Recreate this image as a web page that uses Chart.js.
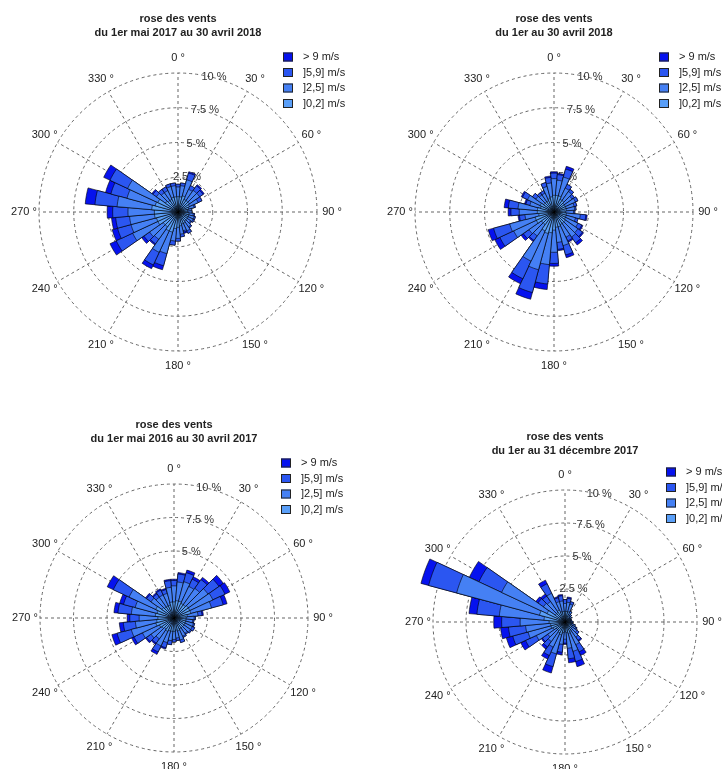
<!DOCTYPE html>
<html lang="fr">
<head>
<meta charset="utf-8">
<title>Roses des vents</title>
<script src="https://cdn.jsdelivr.net/npm/chart.js@4.4.1/dist/chart.umd.min.js"></script>
<style>
  html, body { margin: 0; padding: 0; background: #fff; }
  #wrap { position: relative; width: 722px; height: 769px; overflow: hidden; }
  #wrap canvas { position: absolute; left: 0; top: 0; }
</style>
</head>
<body>
<div id="wrap">
  <canvas id="rose1" width="722" height="769"></canvas>
  <canvas id="rose2" width="722" height="769"></canvas>
  <canvas id="rose3" width="722" height="769"></canvas>
  <canvas id="rose4" width="722" height="769"></canvas>
</div>
<script>
// directions (degrees), one bar every 10°
const directions = [0, 10, 20, 30, 40, 50, 60, 70, 80, 90, 100, 110, 120, 130, 140, 150, 160, 170,
                    180, 190, 200, 210, 220, 230, 240, 250, 260, 270, 280, 290, 300, 310, 320, 330, 340, 350];
const speedClasses = [']0,2] m/s', ']2,5] m/s', ']5,9] m/s', '> 9 m/s'];
const ringTicks = [2.5, 5, 7.5, 10];
const angleTicks = [0, 30, 60, 90, 120, 150, 180, 210, 240, 270, 300, 330];

// frequencies in % — du 1er mai 2017 au 30 avril 2018
const p1_0_2 = [1.1,1.1,1.2,1.0,1.0,1.0,0.9,0.8,0.7,0.7,0.8,0.8,0.8,0.8,0.8,0.9,0.9,1.0,1.1,1.2,1.5,1.5,1.3,1.3,1.6,1.6,1.7,1.7,1.9,1.7,1.6,1.1,1.0,1.0,1.1,1.1];
const p1_2_5 = [0.7,0.8,1.2,0.8,0.9,0.9,0.7,0.4,0.3,0.3,0.3,0.4,0.4,0.3,0.5,0.6,0.5,0.6,0.8,0.9,1.6,1.7,1.1,1.2,2.0,1.9,1.8,1.9,2.5,2.1,2.4,0.8,0.7,0.7,0.8,0.8];
const p1_5_9 = [0.2,0.2,0.5,0.3,0.4,0.3,0.3,0.1,0.0,0.0,0.1,0.1,0.1,0.1,0.1,0.2,0.1,0.2,0.2,0.3,0.9,1.0,0.4,0.5,1.3,1.0,1.0,1.1,1.6,1.2,1.4,0.3,0.3,0.3,0.2,0.2];
const p1_9   = [0.0,0.0,0.1,0.0,0.1,0.1,0.0,0.0,0.0,0.0,0.0,0.0,0.0,0.0,0.0,0.0,0.1,0.0,0.0,0.0,0.3,0.3,0.1,0.2,0.5,0.4,0.3,0.4,0.7,0.4,0.5,0.1,0.0,0.0,0.0,0.0];

// du 1er au 30 avril 2018
const p2_0_2 = [1.2,1.2,1.2,1.0,1.0,0.9,0.9,0.9,0.9,0.8,0.9,0.9,0.9,1.0,1.0,1.0,1.1,1.1,1.3,1.5,1.6,1.5,1.1,1.1,1.4,1.4,1.1,1.2,1.2,1.0,1.1,0.9,0.9,0.9,1.0,1.1];
const p2_2_5 = [1.2,1.1,1.4,0.9,0.8,0.7,0.8,0.6,0.6,0.6,1.0,0.7,1.0,1.1,1.2,1.0,1.4,1.1,1.6,2.3,2.7,2.4,1.0,1.1,1.8,1.9,1.0,1.3,1.4,0.8,1.0,0.7,0.6,0.6,0.9,1.0];
const p2_5_9 = [0.4,0.4,0.6,0.3,0.2,0.2,0.2,0.2,0.1,0.1,0.4,0.2,0.3,0.4,0.5,0.3,0.7,0.5,0.8,1.4,1.7,1.4,0.4,0.5,1.1,1.2,0.4,0.6,0.7,0.3,0.4,0.3,0.2,0.2,0.3,0.4];
const p2_9   = [0.1,0.1,0.2,0.0,0.0,0.0,0.0,0.0,0.0,0.0,0.1,0.0,0.1,0.1,0.2,0.1,0.2,0.1,0.2,0.4,0.5,0.4,0.1,0.2,0.4,0.4,0.1,0.2,0.3,0.1,0.1,0.0,0.0,0.0,0.0,0.1];

// du 1er mai 2016 au 30 avril 2017
const p3_0_2 = [1.2,1.3,1.3,1.2,1.2,1.3,1.3,1.3,1.0,0.9,0.9,0.9,0.9,0.9,0.9,0.9,1.0,0.9,1.0,1.0,1.0,1.1,1.0,1.1,1.2,1.4,1.3,1.2,1.4,1.3,1.5,1.1,1.0,1.0,1.0,1.2];
const p3_2_5 = [1.2,1.4,1.5,1.4,1.5,1.8,1.9,1.6,0.8,0.6,0.5,0.6,0.6,0.6,0.5,0.6,0.7,0.6,0.6,0.7,0.9,1.2,0.9,1.0,1.4,1.9,1.6,1.4,1.8,1.7,2.2,1.0,0.9,0.9,0.9,1.1];
const p3_5_9 = [0.4,0.6,0.7,0.6,0.8,1.0,1.0,0.9,0.3,0.1,0.1,0.1,0.2,0.1,0.1,0.1,0.2,0.2,0.2,0.3,0.4,0.5,0.4,0.4,0.7,1.1,0.9,0.7,1.0,0.9,1.3,0.4,0.3,0.4,0.3,0.5];
const p3_9   = [0.1,0.1,0.2,0.2,0.2,0.4,0.4,0.3,0.1,0.0,0.0,0.0,0.0,0.0,0.0,0.0,0.0,0.0,0.0,0.0,0.1,0.2,0.1,0.1,0.2,0.4,0.3,0.2,0.3,0.3,0.5,0.1,0.1,0.1,0.1,0.1];

// du 1er au 31 décembre 2017
const p4_0_2 = [0.8,0.8,0.8,0.6,0.5,0.4,0.4,0.4,0.4,0.4,0.4,0.5,0.6,0.6,0.7,0.8,0.9,0.8,0.7,0.8,1.0,0.9,0.8,0.8,1.0,1.1,1.1,1.2,1.6,2.0,1.5,0.9,0.9,1.0,0.8,0.8];
const p4_2_5 = [0.6,0.7,0.6,0.3,0.2,0.2,0.1,0.1,0.1,0.2,0.2,0.3,0.3,0.5,0.7,1.1,1.4,1.2,0.6,0.9,1.5,1.2,1.0,0.8,1.4,1.8,1.9,2.2,3.4,6.5,3.8,1.1,1.0,1.4,0.8,0.8];
const p4_5_9 = [0.3,0.3,0.2,0.0,0.0,0.0,0.0,0.0,0.0,0.0,0.0,0.0,0.1,0.2,0.3,0.6,0.8,0.8,0.3,0.6,1.0,0.7,0.5,0.5,0.9,1.2,1.3,1.4,1.7,2.2,1.9,0.5,0.5,0.8,0.3,0.4];
const p4_9   = [0.0,0.1,0.0,0.0,0.0,0.0,0.0,0.0,0.0,0.0,0.0,0.0,0.0,0.0,0.1,0.3,0.4,0.3,0.1,0.2,0.5,0.3,0.2,0.1,0.4,0.5,0.6,0.6,0.6,0.6,0.8,0.2,0.2,0.3,0.1,0.1];

const W = 722, H = 769;
const speedColors = ['#5a9ff8', '#4580f4', '#2b56f1', '#0612ee'];
const FONT = '"Liberation Sans", Arial, sans-serif';

const panels = [
  { id: 'rose1', title: ['rose des vents', 'du 1er mai 2017 au 30 avril 2018'],
    series: [p1_0_2, p1_2_5, p1_5_9, p1_9], cx: 178, cy: 212, R: 139, titleY: 19, legX: 283, legY: 57 },
  { id: 'rose2', title: ['rose des vents', 'du 1er au 30 avril 2018'],
    series: [p2_0_2, p2_2_5, p2_5_9, p2_9], cx: 554, cy: 212, R: 139, titleY: 19, legX: 659, legY: 57 },
  { id: 'rose3', title: ['rose des vents', 'du 1er mai 2016 au 30 avril 2017'],
    series: [p3_0_2, p3_2_5, p3_5_9, p3_9], cx: 174, cy: 618, R: 134, titleY: 425, legX: 281, legY: 463 },
  { id: 'rose4', title: ['rose des vents', 'du 1er au 31 décembre 2017'],
    series: [p4_0_2, p4_2_5, p4_5_9, p4_9], cx: 565, cy: 622, R: 132, titleY: 437, legX: 666, legY: 472 }
];

// stacked bars: each class drawn as cumulative arc, smallest on top
function cumulate(series) {
  let acc = directions.map(() => 0);
  return series.map(s => {
    acc = acc.map((v, i) => +(v + s[i]).toFixed(2));
    return acc;
  });
}

function polar(cx, cy, r, deg) {
  const a = deg * Math.PI / 180;
  return [cx + r * Math.sin(a), cy - r * Math.cos(a)];
}

function makeDeco(p) {
  return {
    id: 'roseDeco',
    beforeDatasetsDraw(chart) {
      const s = chart.scales.r;
      const ctx = chart.ctx;
      const cx = s.xCenter, cy = s.yCenter;
      const R = s.getDistanceFromCenterForValue(10);
      ctx.save();
      // spokes every 30°
      ctx.strokeStyle = '#666';
      ctx.lineWidth = 1;
      ctx.setLineDash([3, 3]);
      angleTicks.forEach(d => {
        const [x, y] = polar(cx, cy, R, d);
        ctx.beginPath();
        ctx.moveTo(cx, cy);
        ctx.lineTo(x, y);
        ctx.stroke();
      });
      ctx.setLineDash([]);
      // ring labels
      ctx.font = '11px ' + FONT;
      ctx.fillStyle = '#333';
      ctx.textAlign = 'center';
      ctx.textBaseline = 'middle';
      ringTicks.forEach(v => {
        const [x, y] = polar(cx, cy, s.getDistanceFromCenterForValue(v), 15);
        ctx.fillText(String(v) + ' %', x, y - 1);
      });
      ctx.restore();
    },
    afterDatasetsDraw(chart) {
      const s = chart.scales.r;
      const ctx = chart.ctx;
      const cx = s.xCenter, cy = s.yCenter;
      const R = s.getDistanceFromCenterForValue(10);
      ctx.save();
      ctx.fillStyle = '#222';
      ctx.textAlign = 'center';
      ctx.textBaseline = 'middle';
      ctx.font = '11px ' + FONT;
      angleTicks.forEach(d => {
        const [x, y] = polar(cx, cy, R + 15, d);
        ctx.fillText(d + ' °', x, y);
      });
      // title
      ctx.font = 'bold 11px ' + FONT;
      p.title.forEach((t, i) => ctx.fillText(t, cx, p.titleY + i * 13.5));
      // legend, fastest class first
      ctx.font = '11px ' + FONT;
      ctx.textAlign = 'left';
      speedClasses.slice().reverse().forEach((lab, i) => {
        const k = speedClasses.length - 1 - i;
        const y = p.legY + i * 15.5;
        ctx.fillStyle = speedColors[k];
        ctx.fillRect(p.legX, y - 4.5, 10, 9);
        ctx.strokeStyle = '#222';
        ctx.lineWidth = 1;
        ctx.strokeRect(p.legX + 0.5, y - 4, 9, 8);
        ctx.fillStyle = '#222';
        ctx.fillText(lab, p.legX + 20, y);
      });
      ctx.restore();
    }
  };
}

panels.forEach(p => {
  const stacks = cumulate(p.series);
  new Chart(document.getElementById(p.id), {
    type: 'polarArea',
    data: {
      labels: directions.map(d => d + ' °'),
      datasets: stacks.map((vals, k) => ({
        label: speedClasses[k],
        data: vals,
        backgroundColor: speedColors[k],
        borderColor: '#000',
        borderWidth: 0.6,
        clip: false
      }))
    },
    options: {
      responsive: false,
      animation: false,
      events: [],
      layout: {
        padding: { left: p.cx - p.R, top: p.cy - p.R, right: W - p.cx - p.R, bottom: H - p.cy - p.R }
      },
      plugins: {
        legend: { display: false },
        title: { display: false },
        tooltip: { enabled: false }
      },
      scales: {
        r: {
          min: 0,
          max: 10,
          startAngle: -5,
          ticks: { display: false, stepSize: 2.5 },
          grid: { circular: true, color: '#666', lineWidth: 1 },
          border: { dash: [3, 3] },
          angleLines: { display: false },
          pointLabels: { display: false }
        }
      }
    },
    plugins: [makeDeco(p)]
  });
});
</script>
</body>
</html>
